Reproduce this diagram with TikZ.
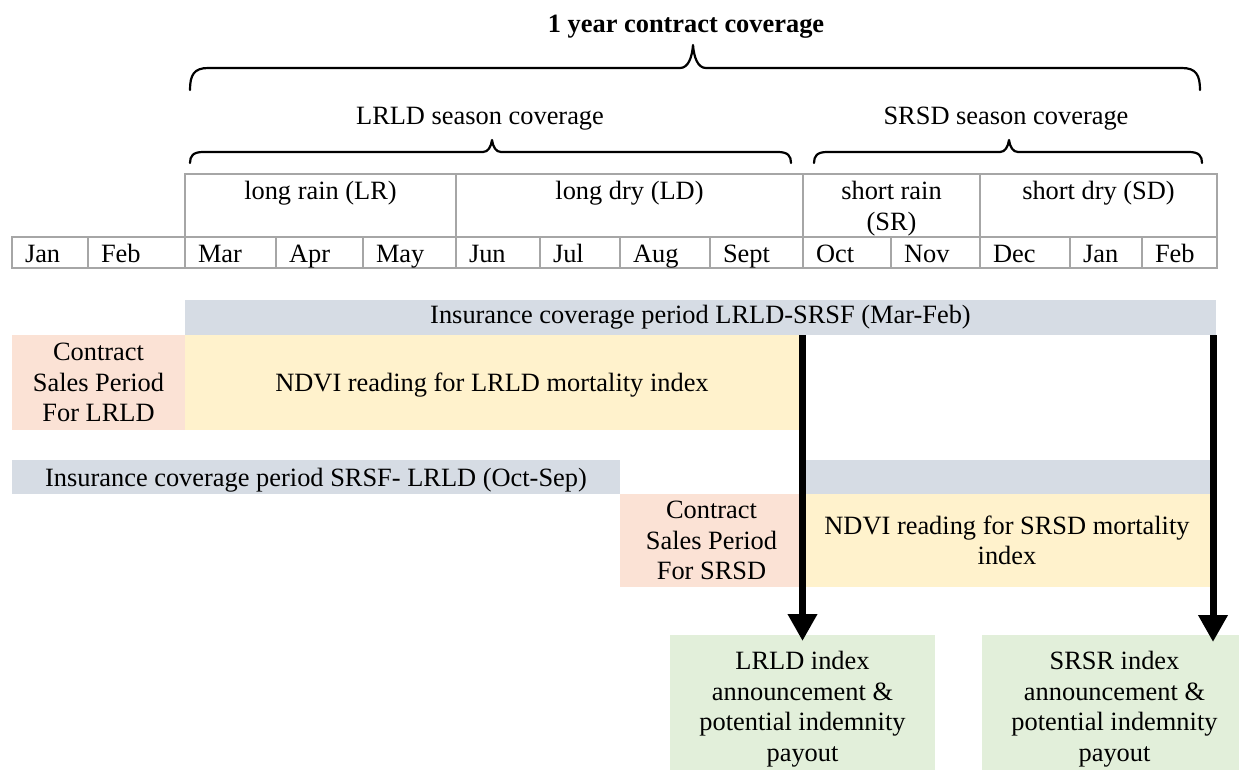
\documentclass[tikz,border=0pt]{standalone}
\usepackage{fontspec}
\setmainfont{Liberation Serif}
\usetikzlibrary{arrows.meta}
\definecolor{gridc}{HTML}{A6A6A6}
\definecolor{barblue}{HTML}{D6DCE4}
\definecolor{peach}{HTML}{FBE2D5}
\definecolor{ylw}{HTML}{FFF2CC}
\definecolor{grn}{HTML}{E2EFDA}
\begin{document}
\begin{tikzpicture}[x=1pt,y=-1pt,
  every node/.style={font=\fontsize{26.4}{30.5}\selectfont, inner sep=0pt, outer sep=0pt},
  cell/.style={draw=gridc, line width=2pt, rectangle},
  lbl/.style={anchor=base},
  mlbl/.style={anchor=base west},
  box/.style={rectangle, align=center},
  bracepath/.style={draw, line width=2.2pt, line join=round, line cap=round},
  bigarrow/.style={line width=7pt, -{Triangle[width=28pt,length=27pt]}}
]
\useasboundingbox (0,0) rectangle (1239,769);
\clip (0,0) rectangle (1239,769);

% title and braces
\node[lbl, font=\fontsize{26.4}{30.5}\selectfont\bfseries] (title) at (686,32) {1 year contract coverage};
\draw[bracepath] (190,90) .. controls (190,75) and (194,68) .. (208,68) -- (680,68)
  .. controls (688,68) and (692,58) .. (693,45) .. controls (694,58) and (698,68) .. (706,68)
  -- (1182,68) .. controls (1196,68) and (1200,75) .. (1200,90);
\node[lbl] (lrldc) at (480,124) {LRLD season coverage};
\node[lbl] (srsdc) at (1006,124) {SRSD season coverage};
\draw[bracepath] (190,163) .. controls (190,156) and (193,152) .. (203,152) -- (483,152)
  .. controls (488,152) and (491,147) .. (492,140) .. controls (493,147) and (496,152) .. (501,152)
  -- (778,152) .. controls (788,152) and (791,156) .. (791,163);
\draw[bracepath] (814,163) .. controls (814,156) and (817,152) .. (827,152) -- (1000,152)
  .. controls (1005,152) and (1008,147) .. (1009,140) .. controls (1010,147) and (1013,152) .. (1018,152)
  -- (1189,152) .. controls (1199,152) and (1202,156) .. (1202,163);

% season row
\foreach \k/\a/\b in {1/185/456, 2/456/803, 3/803/980, 4/980/1217}{
  \node[cell, minimum width={\b-\a}, minimum height=63] (s\k) at ({(\a+\b)/2},205.5) {};
}
\node[lbl] (ts1) at (320.5,199) {long rain (LR)};
\node[lbl] (ts2) at (629.5,199) {long dry (LD)};
\node[lbl] (ts3a) at (891.5,199) {short rain};
\node[lbl] (ts3b) at (891.5,230) {(SR)};
\node[lbl] (ts4) at (1098.5,199) {short dry (SD)};

% month row
\foreach \k/\a/\b/\t in {1/12/88/Jan, 2/88/185/Feb, 3/185/276/Mar, 4/276/363/Apr, 5/363/456/May,
  6/456/540/Jun, 7/540/620/Jul, 8/620/710/Aug, 9/710/803/Sept, 10/803/891/Oct, 11/891/980/Nov,
  12/980/1070/Dec, 13/1070/1142/Jan, 14/1142/1217/Feb}{
  \node[cell, minimum width={\b-\a}, minimum height=31] (m\k) at ({(\a+\b)/2},252.5) {};
  \node[mlbl] (tm\k) at ({\a+13},262) {\t};
}

% timeline boxes
\node[box, fill=barblue, minimum width=1031, minimum height=35, text height=17, text depth=6] (g1) at (700.5,317.5) {Insurance coverage period LRLD-SRSF (Mar-Feb)};
\node[box, fill=peach, minimum width=173, minimum height=95] (p1) at (98.5,382.5) {Contract\\Sales Period\\For LRLD};
\node[box, fill=ylw, minimum width=614, minimum height=95, text height=18, text depth=0] (y1) at (492,382.5) {NDVI reading for LRLD mortality index};
\node[box, fill=barblue, minimum width=608, minimum height=34, text height=18, text depth=0] (g2) at (316,477) {Insurance coverage period SRSF- LRLD (Oct-Sep)};
\node[box, fill=barblue, minimum width=405, minimum height=34] (g3) at (1008.5,477) {};
\node[box, fill=peach, minimum width=183, minimum height=93] (p2) at (711.5,540.5) {Contract\\Sales Period\\For SRSD};
\node[box, fill=ylw, minimum width=408, minimum height=93] (y2) at (1007,540.5) {NDVI reading for SRSD mortality\\index};
\node[box, fill=grn, minimum width=265, minimum height=148] (gr1) at (802.5,709) {LRLD index\\announcement \&\\potential indemnity\\payout};
\node[box, fill=grn, minimum width=265, minimum height=148] (gr2) at (1114.5,709) {SRSR index\\announcement \&\\potential indemnity\\payout};

% arrows
\coordinate (a2s) at (1213,335);
\coordinate (a2e) at (1213,642);
\draw[bigarrow] (g1.south -| gr1.north) -- ([yshift=-6pt]gr1.north);
\draw[bigarrow] (a2s) -- (a2e);
\end{tikzpicture}
\end{document}
